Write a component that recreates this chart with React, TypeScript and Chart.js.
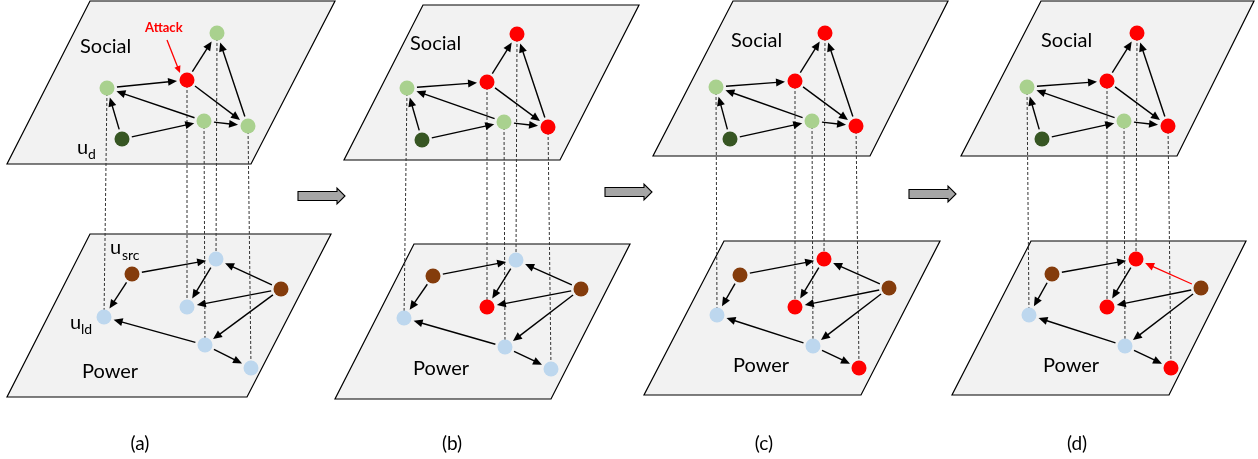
import React, { useEffect, useRef } from "react";
import { Chart, registerables } from "chart.js";

Chart.register(...registerables);

const W = 1258;
const H = 459;

// ---- panel captions ----
const panelLabels = ["(a)", "(b)", "(c)", "(d)"];
const panelLabelX = [140, 452, 764, 1077];
const panelLabelY = 444;

// ---- planes: corners TL, TR, BR, BL ----
const socialPlaneX = [
  [90, 335, 251, 7],
  [423, 639, 560, 344],
  [733, 948, 870, 653],
  [1041, 1254, 1177, 961],
];
const socialPlaneY = [
  [1, 1, 164, 164],
  [5, 5, 160, 160],
  [1, 1, 156, 156],
  [1, 1, 156, 156],
];
const powerPlaneX = [
  [90, 331, 247, 7],
  [414, 630, 551, 335],
  [724, 940, 861, 644],
  [1031, 1246, 1169, 952],
];
const powerPlaneY = [
  [234, 234, 397, 397],
  [244, 244, 399, 399],
  [241, 241, 395, 395],
  [241, 241, 395, 395],
];

// ---- plane titles ----
const socialTitleX = [80, 410, 731, 1041];
const socialTitleY = [53, 50, 47, 47];
const powerTitleX = [82, 413, 733, 1043];
const powerTitleY = [378, 375, 372, 372];

// ---- social nodes: [A, attacked, top, mid, right, u_d] ----
const socialX_a = [107, 187, 217, 204, 248, 122];
const socialY_a = [88, 80, 33, 121, 126, 139];
const socialX_b = [407, 487, 517, 504, 548, 422];
const socialY_b = [88, 82, 34, 122, 127, 140];
const socialX_c = [716, 795, 825, 812, 856, 730];
const socialY_c = [87, 81, 33, 121, 126, 139];
const socialX_d = [1027, 1107, 1137, 1124, 1168, 1042];
const socialY_d = [87, 81, 33, 121, 126, 139];

// ---- power nodes: [u_src, top, midLeft, brownRight, u_ld, lower, bottomRight] ----
const powerX_a = [132, 216, 187, 281, 104, 205, 251];
const powerY_a = [274, 259, 307, 289, 317, 345, 368];
const powerX_b = [433, 516, 487, 581, 404, 505, 551];
const powerY_b = [276, 260, 307, 289, 318, 347, 369];
const powerX_c = [740, 824, 795, 889, 717, 813, 859];
const powerY_c = [275, 259, 307, 288, 315, 346, 368];
const powerX_d = [1052, 1136, 1107, 1201, 1029, 1125, 1171];
const powerY_d = [274, 259, 307, 288, 315, 346, 368];

// ---- node states ----
const socialState_a = ["lg", "red", "lg", "lg", "lg", "dg"];
const socialState_b = ["lg", "red", "red", "lg", "red", "dg"];
const socialState_c = ["lg", "red", "red", "lg", "red", "dg"];
const socialState_d = ["lg", "red", "red", "lg", "red", "dg"];
const powerState_a = ["br", "lb", "lb", "br", "lb", "lb", "lb"];
const powerState_b = ["br", "lb", "red", "br", "lb", "lb", "lb"];
const powerState_c = ["br", "red", "red", "br", "lb", "lb", "red"];
const powerState_d = ["br", "red", "red", "br", "lb", "lb", "red"];

// ---- edges (from, to) ----
const socialEdgeFrom = [0, 1, 1, 4, 3, 3, 5, 5];
const socialEdgeTo = [1, 2, 4, 2, 0, 4, 0, 3];
const powerEdgeFrom = [0, 0, 1, 3, 3, 3, 5, 5];
const powerEdgeTo = [1, 4, 2, 1, 2, 5, 4, 6];
// index of the power edge drawn red, per panel (-1 none)
const redPowerEdge = [-1, -1, -1, 3];

// ---- vertical dependency links (social idx, power idx) ----
const linkSocial = [0, 1, 3, 2, 4];
const linkPower = [4, 2, 5, 1, 6];

// ---- block arrows between panels ----
const stepArrowX0 = [298, 605, 909];
const stepArrowX1 = [345, 652, 956];
const stepArrowY = [196, 192, 194];

const COLORS: Record<string, string> = {
  lg: "#a9d18e",
  dg: "#375623",
  red: "#ff0000",
  lb: "#bdd7ee",
  br: "#843c0c",
};

const socialX = [socialX_a, socialX_b, socialX_c, socialX_d];
const socialY = [socialY_a, socialY_b, socialY_c, socialY_d];
const powerX = [powerX_a, powerX_b, powerX_c, powerX_d];
const powerY = [powerY_a, powerY_b, powerY_c, powerY_d];
const socialState = [socialState_a, socialState_b, socialState_c, socialState_d];
const powerState = [powerState_a, powerState_b, powerState_c, powerState_d];

const FONT = "Lato, 'Open Sans', 'Noto Sans', sans-serif";

function drawArrow(
  ctx: CanvasRenderingContext2D,
  x1: number, y1: number, x2: number, y2: number,
  gapStart: number, gapEnd: number, color: string, lw: number, headLen: number, headHalf: number
) {
  const dx = x2 - x1, dy = y2 - y1;
  const len = Math.hypot(dx, dy);
  const ux = dx / len, uy = dy / len;
  const sx = x1 + ux * gapStart, sy = y1 + uy * gapStart;
  const tx = x2 - ux * gapEnd, ty = y2 - uy * gapEnd;
  const bx = tx - ux * headLen, by = ty - uy * headLen;
  ctx.strokeStyle = color;
  ctx.fillStyle = color;
  ctx.lineWidth = lw;
  ctx.setLineDash([]);
  ctx.beginPath();
  ctx.moveTo(sx, sy);
  ctx.lineTo(bx + ux * 1, by + uy * 1);
  ctx.stroke();
  ctx.beginPath();
  ctx.moveTo(tx, ty);
  ctx.lineTo(bx - uy * headHalf, by + ux * headHalf);
  ctx.lineTo(bx + uy * headHalf, by - ux * headHalf);
  ctx.closePath();
  ctx.fill();
}

const diagramPlugin = {
  id: "diagram",
  beforeDatasetsDraw(chart: any) {
    const ctx: CanvasRenderingContext2D = chart.ctx;
    const xs = chart.scales.x;
    const ys = chart.scales.y;
    const px = (v: number) => xs.getPixelForValue(v);
    const py = (v: number) => ys.getPixelForValue(v);
    ctx.save();

    // planes
    const plane = (xsArr: number[], ysArr: number[]) => {
      ctx.beginPath();
      for (let i = 0; i < 4; i++) {
        const X = px(xsArr[i]), Y = py(ysArr[i]);
        if (i === 0) ctx.moveTo(X, Y); else ctx.lineTo(X, Y);
      }
      ctx.closePath();
      ctx.fillStyle = "#f2f2f2";
      ctx.fill();
      ctx.strokeStyle = "#000";
      ctx.lineWidth = 1.2;
      ctx.setLineDash([]);
      ctx.stroke();
    };
    for (let p = 0; p < 4; p++) {
      plane(socialPlaneX[p], socialPlaneY[p]);
      plane(powerPlaneX[p], powerPlaneY[p]);
    }

    // plane titles
    ctx.fillStyle = "#000";
    ctx.font = `20px ${FONT}`;
    ctx.textBaseline = "alphabetic";
    ctx.textAlign = "left";
    for (let p = 0; p < 4; p++) {
      ctx.fillText("Social", px(socialTitleX[p]), py(socialTitleY[p]));
      ctx.fillText("Power", px(powerTitleX[p]), py(powerTitleY[p]));
    }

    // dashed links
    ctx.strokeStyle = "#333";
    ctx.lineWidth = 1;
    ctx.setLineDash([3, 2]);
    for (let p = 0; p < 4; p++) {
      for (let k = 0; k < linkSocial.length; k++) {
        const s = linkSocial[k], q = linkPower[k];
        ctx.beginPath();
        ctx.moveTo(px(socialX[p][s]), py(socialY[p][s]));
        ctx.lineTo(px(powerX[p][q]), py(powerY[p][q]));
        ctx.stroke();
      }
    }
    ctx.setLineDash([]);

    // edges
    for (let p = 0; p < 4; p++) {
      for (let e = 0; e < socialEdgeFrom.length; e++) {
        const a = socialEdgeFrom[e], b = socialEdgeTo[e];
        drawArrow(ctx, px(socialX[p][a]), py(socialY[p][a]), px(socialX[p][b]), py(socialY[p][b]),
          10, 10, "#000", 1.4, 9, 4);
      }
      for (let e = 0; e < powerEdgeFrom.length; e++) {
        const a = powerEdgeFrom[e], b = powerEdgeTo[e];
        const red = redPowerEdge[p] === e;
        drawArrow(ctx, px(powerX[p][a]), py(powerY[p][a]), px(powerX[p][b]), py(powerY[p][b]),
          10, 10, red ? "#ff0000" : "#000", red ? 1.2 : 1.4, 9, 4);
      }
    }

    // attack annotation
    drawArrow(ctx, px(167), py(40), px(180), py(73), 0, 0, "#ff0000", 1.3, 7, 3.2);
    ctx.fillStyle = "#ff0000";
    ctx.font = `bold 13px ${FONT}`;
    ctx.fillText("Attack", px(145), py(32));

    // node labels
    ctx.fillStyle = "#000";
    const sub = (main: string, s: string, x: number, y: number, sx: number, sy: number) => {
      ctx.font = `20px ${FONT}`;
      ctx.fillText(main, px(x), py(y));
      ctx.font = `14px ${FONT}`;
      ctx.fillText(s, px(sx), py(sy));
    };
    sub("u", "d", 77, 154, 88, 159);
    sub("u", "src", 110, 254, 122, 260);
    sub("u", "ld", 70, 329, 81, 334);

    // step arrows
    for (let i = 0; i < stepArrowX0.length; i++) {
      const x0 = px(stepArrowX0[i]), x1 = px(stepArrowX1[i]), y = py(stepArrowY[i]);
      const hl = 8, sh = 4.5, hh = 8;
      ctx.beginPath();
      ctx.moveTo(x0, y - sh);
      ctx.lineTo(x1 - hl, y - sh);
      ctx.lineTo(x1 - hl, y - hh);
      ctx.lineTo(x1, y);
      ctx.lineTo(x1 - hl, y + hh);
      ctx.lineTo(x1 - hl, y + sh);
      ctx.lineTo(x0, y + sh);
      ctx.closePath();
      ctx.fillStyle = "#a6a6a6";
      ctx.fill();
      ctx.strokeStyle = "#000";
      ctx.lineWidth = 1.1;
      ctx.stroke();
    }

    // panel captions
    ctx.fillStyle = "#000";
    ctx.font = `19px ${FONT}`;
    ctx.textAlign = "center";
    ctx.textBaseline = "middle";
    for (let i = 0; i < panelLabels.length; i++) {
      ctx.fillText(panelLabels[i], px(panelLabelX[i]), py(panelLabelY));
    }
    ctx.restore();
  },
};

function nodeDataset(xsArr: number[], ysArr: number[], states: string[]) {
  return {
    type: "scatter" as const,
    data: xsArr.map((x, i) => ({ x, y: ysArr[i] })),
    pointBackgroundColor: states.map((s) => COLORS[s]),
    pointBorderWidth: 0,
    pointBorderColor: "rgba(0,0,0,0)",
    pointRadius: 7.5,
    pointHoverRadius: 7.5,
    showLine: false,
    clip: false as any,
  };
}

export default function App() {
  const ref = useRef<HTMLCanvasElement>(null);
  useEffect(() => {
    document.body.style.margin = "0";
    const datasets: any[] = [];
    for (let p = 0; p < 4; p++) {
      datasets.push(nodeDataset(socialX[p], socialY[p], socialState[p]));
      datasets.push(nodeDataset(powerX[p], powerY[p], powerState[p]));
    }
    const chart = new Chart(ref.current!, {
      type: "scatter",
      data: { datasets },
      options: {
        animation: false,
        responsive: false,
        maintainAspectRatio: false,
        events: [],
        layout: { padding: 0, autoPadding: false },
        plugins: { legend: { display: false }, tooltip: { enabled: false } },
        scales: {
          x: { type: "linear", min: 0, max: W, display: false },
          y: { type: "linear", min: 0, max: H, reverse: true, display: false },
        },
      },
      plugins: [diagramPlugin],
    });
    return () => chart.destroy();
  }, []);
  return (
    <div style={{ width: W, height: H, background: "#fff" }}>
      <canvas ref={ref} width={W} height={H} style={{ display: "block", width: W, height: H }} />
    </div>
  );
}
